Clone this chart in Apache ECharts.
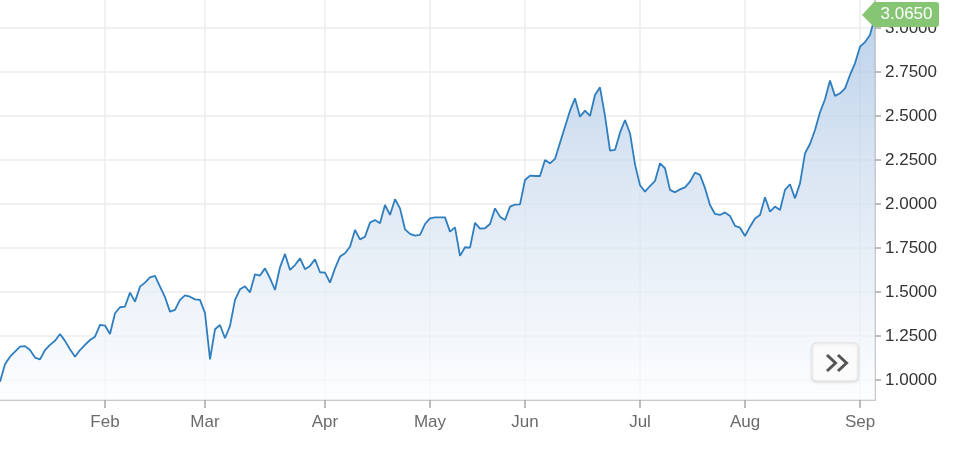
<!DOCTYPE html>
<html><head><meta charset="utf-8">
<script src="https://cdn.jsdelivr.net/npm/echarts@6/dist/echarts.min.js"></script>
<style>html,body{margin:0;padding:0;background:#fff}#c{width:960px;height:449px}</style>
</head><body><div id="c"></div>
<script>
// series values (evenly spaced samples, Jan → early Sep)
const values = [
  0.99, 1.089, 1.132, 1.161, 1.189, 1.192, 1.170, 1.127, 1.117, 1.170,
  1.199, 1.223, 1.261, 1.222, 1.174, 1.132, 1.170, 1.199, 1.227, 1.246,
  1.3125, 1.309, 1.261, 1.379, 1.413, 1.417, 1.496, 1.445, 1.530, 1.553,
  1.583, 1.591, 1.530, 1.470, 1.388, 1.398, 1.455, 1.481, 1.473, 1.458,
  1.455, 1.38, 1.117, 1.288, 1.3125, 1.237, 1.307, 1.455, 1.515, 1.532,
  1.498, 1.600, 1.593, 1.634, 1.578, 1.511, 1.640, 1.716, 1.625, 1.653,
  1.691, 1.629, 1.648, 1.686, 1.612, 1.610, 1.553, 1.634, 1.701, 1.720,
  1.757, 1.852, 1.799, 1.814, 1.894, 1.909, 1.890, 1.994, 1.9375, 2.027,
  1.975, 1.856, 1.830, 1.820, 1.824, 1.886, 1.918, 1.924, 1.924, 1.924,
  1.843, 1.867, 1.705, 1.754, 1.752, 1.892, 1.860, 1.862, 1.886, 1.975,
  1.928, 1.909, 1.985, 1.996, 1.998, 2.136, 2.161, 2.159, 2.159, 2.25,
  2.231, 2.256, 2.348, 2.439, 2.530, 2.600, 2.496, 2.530, 2.50, 2.619,
  2.663, 2.50, 2.303, 2.307, 2.405, 2.477, 2.402, 2.225, 2.106, 2.070,
  2.102, 2.131, 2.231, 2.203, 2.080, 2.066, 2.083, 2.094, 2.127, 2.178,
  2.165, 2.09, 1.994, 1.943, 1.9375, 1.952, 1.932, 1.875, 1.865, 1.818,
  1.871, 1.917, 1.937, 2.038, 1.956, 1.985, 1.966, 2.080, 2.112, 2.032,
  2.117, 2.288, 2.341, 2.420, 2.521, 2.595, 2.701, 2.614, 2.629, 2.657,
  2.733, 2.799, 2.894, 2.920, 2.960, 3.065
];
// category index at which each month begins, and its label
const monthLabels = ['Feb', 'Mar', 'Apr', 'May', 'Jun', 'Jul', 'Aug', 'Sep'];
const monthStarts = [21, 41, 65, 86, 105, 128, 149, 172];
// y tick labels
const yTicks = [1.0, 1.25, 1.5, 1.75, 2.0, 2.25, 2.5, 2.75, 3.0];

const categories = values.map((_, i) => 'p' + i);
const monthAt = {};
monthStarts.forEach((idx, k) => { monthAt[idx] = monthLabels[k]; });
const isMonth = (index) => monthAt[index] !== undefined;
const lastIdx = values.length - 1;
const lastValue = values[lastIdx];

const FONT = "'Liberation Sans', Arial, Helvetica, sans-serif";
const chart = echarts.init(document.getElementById('c'), null, { renderer: 'canvas' });

chart.setOption({
  animation: false,
  backgroundColor: '#ffffff',
  grid: { left: 0, right: 85, top: 0, bottom: 49, containLabel: false },
  xAxis: {
    type: 'category',
    data: categories,
    boundaryGap: false,
    axisLine: { show: true, lineStyle: { color: '#b8b8b8', width: 1.5 } },
    axisTick: { show: true, length: 8, interval: (i) => isMonth(i), lineStyle: { color: '#a8a8a8', width: 1.5 } },
    axisLabel: {
      show: true, interval: (i) => isMonth(i), margin: 14,
      formatter: (v, i) => monthAt[i] || '',
      color: '#6b6b6b', fontSize: 17, fontFamily: FONT
    },
    splitLine: { show: true, interval: (i) => isMonth(i), lineStyle: { color: '#ececec', width: 1.5 } }
  },
  yAxis: {
    type: 'value',
    position: 'right',
    min: 0.886,
    max: 3.159,
    axisLine: { show: true, lineStyle: { color: '#b8b8b8', width: 1.5 } },
    axisTick: { show: true, length: 6, customValues: yTicks, lineStyle: { color: '#a8a8a8', width: 1.5 } },
    axisLabel: {
      show: true, customValues: yTicks, margin: 10,
      formatter: (v) => Number(v).toFixed(4),
      color: '#333333', fontSize: 17, fontFamily: FONT
    },
    splitLine: { show: true, lineStyle: { color: '#ececec', width: 1.5 } }
  },
  series: [{
    type: 'line',
    data: values,
    symbol: 'none',
    smooth: false,
    lineStyle: { color: '#2f7ebf', width: 1.8 },
    areaStyle: {
      color: new echarts.graphic.LinearGradient(0, 0, 0, 1, [
        { offset: 0, color: '#a3c0e3' },
        { offset: 0.45, color: '#cfdeef' },
        { offset: 1, color: '#fcfdfe' }
      ])
    },
    markPoint: {
      silent: true,
      data: [{
        coord: [lastIdx, lastValue],
        value: lastValue,
        symbol: 'path://M0,13 L12,0 L74,0 Q77,0 77,3 L77,22 Q77,25 74,25 L12,25 Z',
        symbolSize: [77, 25],
        symbolKeepAspect: false,
        symbolOffset: [25.5, -2],
        itemStyle: { color: '#86c574' },
        label: {
          show: true, position: 'inside', offset: [6, 0],
          formatter: () => lastValue.toFixed(4),
          color: '#ffffff', fontSize: 17, fontFamily: FONT
        }
      }]
    }
  }],
  graphic: [
    {
      type: 'rect', z: 100,
      shape: { x: 812, y: 343, width: 46, height: 38, r: 4 },
      style: { fill: '#fbfbfb', stroke: '#e2e2e2', lineWidth: 1, shadowBlur: 3, shadowColor: 'rgba(0,0,0,0.12)', shadowOffsetY: 1 }
    },
    {
      type: 'polyline', z: 101,
      shape: { points: [[827, 355], [835.5, 363], [827, 371]] },
      style: { stroke: '#555555', lineWidth: 3, fill: null, lineJoin: 'miter' }
    },
    {
      type: 'polyline', z: 101,
      shape: { points: [[838, 355], [846.5, 363], [838, 371]] },
      style: { stroke: '#555555', lineWidth: 3, fill: null, lineJoin: 'miter' }
    }
  ]
});
</script>
</body></html>
